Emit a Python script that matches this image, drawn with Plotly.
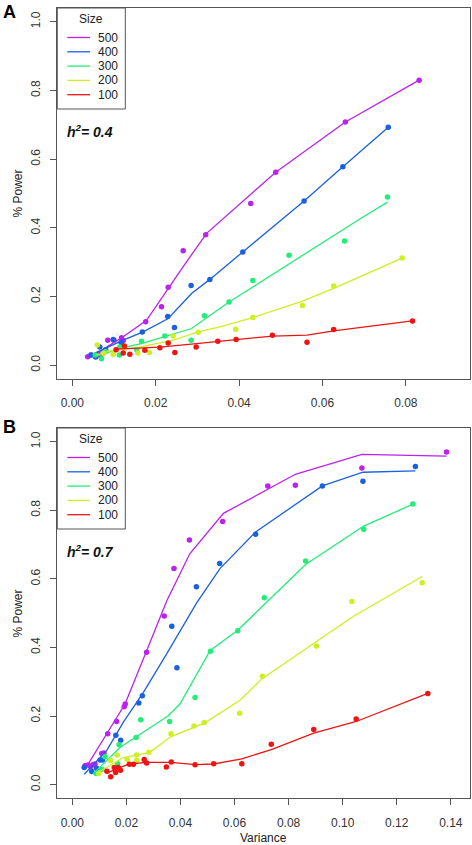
import plotly.graph_objects as go

# ---------------- data ----------------
sizes = ["500", "400", "300", "200", "100"]
colors = ["#BB22EE", "#1A60E0", "#22EE77", "#CCF022", "#EE1414"]

x_ticks_a = [0.00, 0.02, 0.04, 0.06, 0.08]
x_ticks_b = [0.00, 0.02, 0.04, 0.06, 0.08, 0.10, 0.12, 0.14]
y_ticks = [0.0, 0.2, 0.4, 0.6, 0.8, 1.0]

# Panel A  (h2 = 0.4) -- points
a500_x = [0.0037, 0.0045, 0.0055, 0.0062, 0.0068, 0.0074, 0.0085, 0.0100, 0.0118, 0.0122, 0.0176, 0.0214, 0.0230, 0.0266, 0.0320, 0.0428, 0.0488, 0.0655, 0.0832]
a500_y = [0.025, 0.030, 0.028, 0.032, 0.027, 0.035, 0.073, 0.073, 0.080, 0.072, 0.127, 0.170, 0.227, 0.333, 0.380, 0.471, 0.562, 0.708, 0.830]
a400_x = [0.0045, 0.0056, 0.0066, 0.0080, 0.0098, 0.0117, 0.0168, 0.0229, 0.0245, 0.0285, 0.0330, 0.0409, 0.0556, 0.0649, 0.0758]
a400_y = [0.030, 0.024, 0.053, 0.045, 0.075, 0.066, 0.097, 0.142, 0.110, 0.232, 0.250, 0.330, 0.478, 0.578, 0.693]
a300_x = [0.0055, 0.0070, 0.0080, 0.0113, 0.0114, 0.0154, 0.0166, 0.0222, 0.0285, 0.0317, 0.0376, 0.0433, 0.0520, 0.0653, 0.0756]
a300_y = [0.030, 0.019, 0.040, 0.030, 0.053, 0.046, 0.070, 0.085, 0.073, 0.144, 0.184, 0.247, 0.320, 0.362, 0.490]
a200_x = [0.0060, 0.0075, 0.0098, 0.0125, 0.0157, 0.0185, 0.0242, 0.0302, 0.0392, 0.0433, 0.0552, 0.0627, 0.0791]
a200_y = [0.059, 0.035, 0.032, 0.050, 0.036, 0.037, 0.085, 0.096, 0.105, 0.139, 0.174, 0.231, 0.312]
a100_x = [0.0105, 0.0122, 0.0125, 0.0138, 0.0174, 0.0210, 0.0230, 0.0246, 0.0297, 0.0349, 0.0393, 0.0480, 0.0563, 0.0627, 0.0816]
a100_y = [0.045, 0.036, 0.056, 0.032, 0.044, 0.051, 0.065, 0.037, 0.053, 0.070, 0.075, 0.087, 0.067, 0.104, 0.129]

# Panel A -- fitted curves
a500_fx = [0.0037, 0.0060, 0.0085, 0.0122, 0.0178, 0.0230, 0.0266, 0.0322, 0.0428, 0.0488, 0.0655, 0.0832]
a500_fy = [0.024, 0.035, 0.055, 0.083, 0.131, 0.224, 0.287, 0.384, 0.496, 0.562, 0.708, 0.830]
a400_fx = [0.0045, 0.0080, 0.0122, 0.0170, 0.0230, 0.0286, 0.0330, 0.0409, 0.0498, 0.0556, 0.0649, 0.0758]
a400_fy = [0.030, 0.050, 0.073, 0.097, 0.136, 0.209, 0.250, 0.330, 0.418, 0.478, 0.578, 0.693]
a300_fx = [0.0055, 0.0114, 0.0166, 0.0222, 0.0286, 0.0376, 0.0498, 0.0686, 0.0756]
a300_fy = [0.025, 0.049, 0.063, 0.083, 0.107, 0.184, 0.279, 0.423, 0.475]
a200_fx = [0.0058, 0.0098, 0.0154, 0.0242, 0.0302, 0.0354, 0.0433, 0.0552, 0.0627, 0.0791]
a200_fy = [0.030, 0.044, 0.051, 0.073, 0.097, 0.112, 0.139, 0.187, 0.224, 0.312]
a100_fx = [0.0105, 0.0160, 0.0210, 0.0298, 0.0393, 0.0480, 0.0563, 0.0627, 0.0816]
a100_fy = [0.047, 0.050, 0.053, 0.063, 0.075, 0.085, 0.088, 0.100, 0.129]

# Panel B  (h2 = 0.7) -- points
b500_x = [0.0047, 0.0058, 0.0068, 0.0076, 0.0084, 0.0109, 0.0117, 0.0131, 0.0164, 0.0192, 0.0196, 0.0275, 0.0340, 0.0376, 0.0433, 0.0556, 0.0723, 0.0825, 0.1071, 0.1384]
b500_y = [0.055, 0.057, 0.052, 0.058, 0.060, 0.091, 0.092, 0.148, 0.184, 0.227, 0.235, 0.386, 0.492, 0.630, 0.713, 0.767, 0.871, 0.873, 0.923, 0.970]
b400_x = [0.0044, 0.0072, 0.0090, 0.0103, 0.0112, 0.0161, 0.0179, 0.0246, 0.0259, 0.0368, 0.0387, 0.0459, 0.0545, 0.0678, 0.0925, 0.1075, 0.1269]
b400_y = [0.050, 0.038, 0.048, 0.072, 0.072, 0.144, 0.129, 0.238, 0.259, 0.462, 0.341, 0.577, 0.645, 0.730, 0.871, 0.885, 0.928]
b300_x = [0.0088, 0.0109, 0.0121, 0.0168, 0.0173, 0.0236, 0.0253, 0.0360, 0.0454, 0.0511, 0.0612, 0.0710, 0.0863, 0.1078, 0.1260]
b300_y = [0.032, 0.045, 0.081, 0.061, 0.116, 0.137, 0.189, 0.184, 0.254, 0.389, 0.449, 0.545, 0.652, 0.745, 0.818]
b200_x = [0.0098, 0.0142, 0.0166, 0.0203, 0.0238, 0.0238, 0.0283, 0.0365, 0.0450, 0.0488, 0.0619, 0.0703, 0.0903, 0.1034, 0.1294]
b200_y = [0.032, 0.070, 0.086, 0.073, 0.086, 0.070, 0.094, 0.148, 0.171, 0.181, 0.208, 0.316, 0.404, 0.534, 0.589]
b100_x = [0.0128, 0.0142, 0.0155, 0.0160, 0.0170, 0.0178, 0.0211, 0.0226, 0.0266, 0.0275, 0.0348, 0.0366, 0.0454, 0.0523, 0.0627, 0.0736, 0.0893, 0.1050, 0.1315]
b100_y = [0.039, 0.023, 0.050, 0.035, 0.050, 0.042, 0.059, 0.059, 0.073, 0.063, 0.051, 0.066, 0.058, 0.061, 0.061, 0.118, 0.161, 0.191, 0.266]

# Panel B -- fitted curves
b500_fx = [0.0047, 0.0127, 0.0195, 0.0275, 0.0350, 0.0435, 0.0559, 0.0825, 0.1071, 0.1384]
b500_fy = [0.045, 0.148, 0.235, 0.390, 0.537, 0.674, 0.791, 0.905, 0.963, 0.958]
b400_fx = [0.0044, 0.0127, 0.0189, 0.0263, 0.0349, 0.0460, 0.0546, 0.0678, 0.0925, 0.1075, 0.1269]
b400_fy = [0.030, 0.099, 0.182, 0.269, 0.381, 0.530, 0.630, 0.737, 0.871, 0.911, 0.915]
b300_fx = [0.0088, 0.0176, 0.0355, 0.0398, 0.0510, 0.0612, 0.0707, 0.0863, 0.1078, 0.1260]
b300_fy = [0.040, 0.108, 0.201, 0.235, 0.391, 0.450, 0.523, 0.642, 0.754, 0.818]
b200_fx = [0.0095, 0.0189, 0.0287, 0.0365, 0.0490, 0.0620, 0.0702, 0.0900, 0.1034, 0.1294]
b200_fy = [0.035, 0.079, 0.094, 0.140, 0.180, 0.246, 0.309, 0.415, 0.488, 0.607]
b100_fx = [0.0131, 0.0170, 0.0210, 0.0275, 0.0366, 0.0454, 0.0523, 0.0627, 0.0736, 0.0893, 0.1050, 0.1315]
b100_fy = [0.035, 0.048, 0.060, 0.065, 0.065, 0.058, 0.060, 0.075, 0.102, 0.150, 0.184, 0.266]

panel_a = [(a500_x, a500_y, a500_fx, a500_fy), (a400_x, a400_y, a400_fx, a400_fy),
           (a300_x, a300_y, a300_fx, a300_fy), (a200_x, a200_y, a200_fx, a200_fy),
           (a100_x, a100_y, a100_fx, a100_fy)]
panel_b = [(b500_x, b500_y, b500_fx, b500_fy), (b400_x, b400_y, b400_fx, b400_fy),
           (b300_x, b300_y, b300_fx, b300_fy), (b200_x, b200_y, b200_fx, b200_fy),
           (b100_x, b100_y, b100_fx, b100_fy)]

# ---------------- figure ----------------
W, H = 472, 845
FONT = "Liberation Sans, Arial, sans-serif"
AX = "#555555"


def px(x):
    return x / W


def py(y):
    return 1 - y / H


fig = go.Figure()

for panel, xa, ya in [(panel_a, "x", "y"), (panel_b, "x2", "y2")]:
    for (sx, sy, fx, fy), name, col in zip(panel, sizes, colors):
        fig.add_trace(go.Scatter(x=fx, y=fy, mode="lines", name=name,
                                 line=dict(color=col, width=1.3),
                                 xaxis=xa, yaxis=ya, showlegend=False,
                                 hoverinfo="skip"))
        fig.add_trace(go.Scatter(x=sx, y=sy, mode="markers", name=name,
                                 marker=dict(color=col, size=5.5),
                                 xaxis=xa, yaxis=ya, showlegend=False))

xdom = [px(57.3), px(470)]
ydom_a = [py(379), py(8)]
ydom_b = [py(798.3), py(428)]

axis_common = dict(showline=True, mirror=True, linecolor=AX, linewidth=1,
                   ticks="outside", ticklen=6, tickcolor=AX, tickwidth=1,
                   showgrid=False, zeroline=False,
                   tickfont=dict(family=FONT, size=12, color="#333333"))

fig.update_layout(
    width=W, height=H, autosize=False,
    margin=dict(l=0, r=0, t=0, b=0),
    paper_bgcolor="white", plot_bgcolor="white",
    showlegend=False,
    xaxis=dict(domain=xdom, anchor="y", range=[-0.0036, 0.0954],
               tickvals=x_ticks_a, tickformat=".2f", ticklabelstandoff=7, **axis_common),
    yaxis=dict(domain=ydom_a, anchor="x", range=[-0.04, 1.04],
               tickvals=y_ticks, tickformat=".1f", tickangle=-90,
               ticklabelstandoff=6, **axis_common),
    xaxis2=dict(domain=xdom, anchor="y2", range=[-0.00555, 0.1471],
                tickvals=x_ticks_b, tickformat=".2f", ticklabelstandoff=7, **axis_common),
    yaxis2=dict(domain=ydom_b, anchor="x2", range=[-0.04, 1.04],
                tickvals=y_ticks, tickformat=".1f", tickangle=-90,
                ticklabelstandoff=6, **axis_common),
)

shapes = []
annotations = []

for top, h2 in [(8, "0.4"), (428, "0.7")]:
    # legend box
    shapes.append(dict(type="rect", xref="paper", yref="paper",
                       x0=px(57.3), x1=px(125.3), y0=py(top + 101), y1=py(top),
                       line=dict(color=AX, width=1), fillcolor="white"))
    annotations.append(dict(text="Size", xref="paper", yref="paper",
                            x=px(91), y=py(top + 11), showarrow=False,
                            xanchor="center", yanchor="middle",
                            font=dict(family=FONT, size=12, color="#222222")))
    for i, (name, col) in enumerate(zip(sizes, colors)):
        yy = top + 29.5 + i * 14.3
        shapes.append(dict(type="line", xref="paper", yref="paper",
                           x0=px(67.3), x1=px(90), y0=py(yy), y1=py(yy),
                           line=dict(color=col, width=1.3)))
        annotations.append(dict(text=name, xref="paper", yref="paper",
                                x=px(120), y=py(yy), showarrow=False,
                                xanchor="right", yanchor="middle",
                                font=dict(family=FONT, size=12, color="#222222")))
    # h2 label
    annotations.append(dict(text="<b><i>h<sup>2</sup>= " + h2 + "</i></b>",
                            xref="paper", yref="paper", x=px(65), y=py(top + 122.7),
                            showarrow=False, xanchor="left", yanchor="middle",
                            font=dict(family=FONT, size=14, color="#111111")))
    # y-axis title
    annotations.append(dict(text="% Power", xref="paper", yref="paper",
                            x=px(17), y=py(top + 185.5), showarrow=False,
                            textangle=-90, xanchor="center", yanchor="middle",
                            font=dict(family=FONT, size=12, color="#222222")))

annotations.append(dict(text="<b>A</b>", xref="paper", yref="paper", x=px(1), y=py(12),
                        showarrow=False, xanchor="left", yanchor="middle",
                        font=dict(family=FONT, size=18, color="black")))
annotations.append(dict(text="<b>B</b>", xref="paper", yref="paper", x=px(1), y=py(427),
                        showarrow=False, xanchor="left", yanchor="middle",
                        font=dict(family=FONT, size=18, color="black")))
annotations.append(dict(text="Variance", xref="paper", yref="paper", x=px(263.5), y=py(838),
                        showarrow=False, xanchor="center", yanchor="middle",
                        font=dict(family=FONT, size=12, color="#222222")))

fig.update_layout(shapes=shapes, annotations=annotations)

fig.write_html("out.html",
               config={"displayModeBar": False},
               post_script="document.body.style.margin='0px';"
                           "document.body.style.padding='0px';"
                           "document.body.style.overflow='hidden';")
